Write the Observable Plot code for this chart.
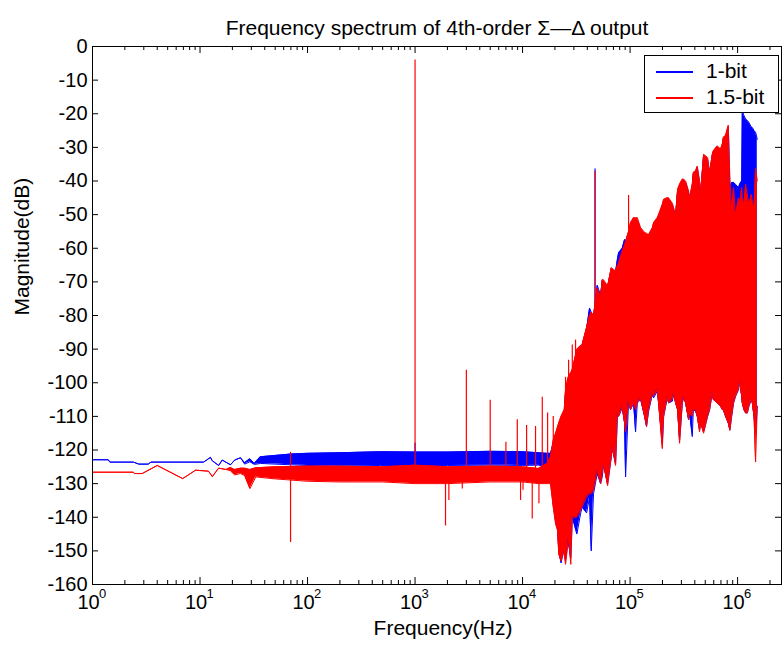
<!DOCTYPE html>
<html>
<head>
<meta charset="utf-8">
<script src="https://cdn.jsdelivr.net/npm/d3@7"></script>
<script src="https://cdn.jsdelivr.net/npm/@observablehq/plot@0.6"></script>
<style>
  html, body { margin: 0; padding: 0; background: #fff; }
  #wrap { position: relative; width: 784px; height: 648px; font-family: "Liberation Sans", Arial, sans-serif; }
  #legend { position: absolute; left: 644px; top: 55px; width: 133px; height: 56px; border: 1px solid #000; background: #fff; font-size: 21px; color: #000; }
  #legend .sw { position: absolute; left: 11px; width: 37px; height: 1.5px; }
  #legend .lb { position: absolute; left: 61px; line-height: 24px; white-space: nowrap; }
</style>
</head>
<body>
<div id="wrap"><div id="plot"></div>
  <div id="legend">
    <div class="sw" style="top:15px;background:#0000ff"></div><div class="lb" style="top:3px">1-bit</div>
    <div class="sw" style="top:41px;background:#ff0000"></div><div class="lb" style="top:29px">1.5-bit</div>
  </div>
</div>
<script>
// ---------- text ----------
const titleText = "Frequency spectrum of 4th-order Σ—Δ output";
const xLabel = "Frequency(Hz)";
const yLabel = "Magnitude(dB)";
const seriesNames = ["1-bit", "1.5-bit"];

// ---------- ticks ----------
const xTickValues = [1, 10, 100, 1000, 10000, 100000, 1000000];
const xTickExponents = ["0", "1", "2", "3", "4", "5", "6"];
const xMinorTicks = [2,3,4,5,6,7,8,9, 20,30,40,50,60,70,80,90, 200,300,400,500,600,700,800,900,
  2000,3000,4000,5000,6000,7000,8000,9000, 20000,30000,40000,50000,60000,70000,80000,90000,
  200000,300000,400000,500000,600000,700000,800000,900000, 2000000];
const yTickValues = [0,-10,-20,-30,-40,-50,-60,-70,-80,-90,-100,-110,-120,-130,-140,-150,-160];

// ---------- 1-bit (blue), low-frequency part: envelope (Hz, dB) ----------
const blueLowF  = [1, 1.4, 1.45, 2.4, 2.7, 3.3, 3.5, 10.8, 12.5, 13, 14.9, 16.1, 19.2, 21, 23.8, 26, 29.1, 32, 36.5, 50, 70, 100, 200, 478, 1000, 2000, 5000, 10000, 14000];
const blueLowHi = [-122.9, -122.9, -123.6, -123.6, -124.2, -124.2, -123.6, -123.6, -122.2, -123.2, -124.6, -123, -124.4, -123, -122.3, -123.8, -122.6, -124, -122, -121.6, -121.2, -121, -120.8, -120.5, -120.6, -120.6, -120.4, -120.5, -120.8];
const blueLowLo = [-122.9, -122.9, -123.6, -123.6, -124.2, -124.2, -123.6, -123.6, -122.2, -123.2, -124.6, -123, -124.4, -123, -122.3, -124.2, -123.5, -124.3, -124, -124.2, -124.4, -124.6, -124.8, -124.6, -124.6, -124.6, -124.5, -124.6, -124.5];

// ---------- 1.5-bit (red), low-frequency part ----------
const redLowF  = [1, 2.4, 2.45, 2.9, 4.0, 6.9, 9.1, 12.0, 13.0, 14.9, 17.5, 19.2, 21, 23.8, 26, 29.1, 33, 50, 100, 200, 500, 1000, 2000, 5000, 10000, 14000];
const redLowHi = [-126.6, -126.6, -127, -127, -124.6, -128.5, -126, -126.3, -127.9, -125.4, -125.8, -125.2, -125.8, -125.4, -125.4, -125.8, -125.3, -125, -124.8, -124.8, -125, -124.5, -125, -124.8, -125, -125.5];
const redLowLo = [-126.6, -126.6, -127, -127, -124.6, -128.5, -126, -126.3, -127.9, -125.4, -125.8, -126.2, -127.4, -127, -127.6, -131.5, -128, -128.6, -129.3, -129.5, -129.5, -130, -130, -129.5, -129.5, -130];

// ---------- high-frequency (shaped noise) part: shared frequency grid ----------
const hfF = [16900, 18200, 19300, 20300, 21200, 21700, 22800, 24400, 25100, 26200, 26800, 28100, 29000, 32000, 34600, 35700, 39400, 42000, 43500, 45700,
  49500, 53200, 55100, 56600, 61800, 66900, 68300, 73300, 76500, 78200, 84600, 88900, 90800, 96800, 101000, 107800, 112500, 116700, 125300, 136500,
  142300, 148600, 161000, 165500, 179100, 184200, 199500, 205100, 221900, 228200, 247100, 254100, 265100, 276700, 288700, 306000, 314600, 328400, 350200, 357600,
  379000, 387400, 406600, 421900, 443100, 452900, 482800, 526000, 549400, 582100, 594300, 647700, 695000, 720900, 736300, 773000, 819300, 847500, 880000, 917300,
  957000, 1021000, 1044000, 1092000, 1106000, 1145000, 1187000, 1231000, 1274000, 1342000, 1371000, 1422000, 1470000, 1524000];
const redHfHi = [-124, -122, -117, -115, -113, -112, -110, -108, -102, -99, -98, -97, -96, -90, -89, -88.8, -83.5, -80, -79, -80,
  -71.8, -74.4, -69.4, -69.4, -71.2, -65.8, -66, -66.8, -65, -64.4, -61, -59, -58, -55, -52.4, -50.9, -51, -50.9, -53.9, -55.3,
  -55.6, -56, -54, -52.4, -51, -50, -47, -45.5, -45, -45, -46.6, -48, -50, -42.5, -41, -39.5, -39.5, -40, -43, -45,
  -41, -37.5, -37, -35.6, -40, -43.5, -32.1, -33, -37.5, -32, -31.1, -29.6, -30.5, -29, -27.1, -26.5, -23.4, -39.5, -48, -42,
  -50, -45, -47, -42, -45, -47, -41, -44, -47, -44, -46, -48, -36.3, -40];
const redHfLo = [-130, -130, -137, -142, -144, -151, -153, -150, -154, -149, -146, -154, -140, -140, -138, -137, -134, -133, -133, -132,
  -126, -130, -127, -124.1, -130.6, -122, -119, -124.6, -108, -110, -107, -112, -114.6, -105, -108, -106, -108, -106, -104.5, -110,
  -113, -108, -103, -104, -102, -106, -119.6, -110, -104, -106, -105, -103, -106, -108, -118, -106, -104, -106, -111, -109,
  -110, -108, -108, -110, -114.6, -112, -115, -110, -108, -102.7, -105, -106, -107, -108, -108, -110, -112, -114.2, -110, -106,
  -104, -102, -99, -104, -106, -108, -109, -109, -107, -105, -106, -110, -123.6, -107];
const blueHfHi = [-121, -121, -118, -116, -114, -112.5, -111, -109, -103, -100, -98.5, -97.5, -96.5, -90.5, -89.5, -89, -84, -77.8, -79, -80.5,
  -71, -74, -69.6, -70, -71.5, -66, -66.5, -67, -63, -61.4, -60, -57.4, -58, -55.5, -53, -51.5, -51.5, -51.5, -54.5, -56,
  -56, -56.5, -54.5, -53, -51.5, -50.5, -47.5, -46, -45.5, -45.5, -47, -48.5, -50.5, -43, -41.5, -40, -40, -40.5, -43.5, -45.5,
  -41.5, -38, -37.5, -36, -40.5, -44, -32.5, -33.5, -38, -32.5, -31.5, -30, -31, -29.5, -27.5, -27, -24, -42, -40.5, -40.4,
  -41, -42, -41, -40, -19.2, -20.5, -21.6, -22, -22.6, -24, -24.1, -25, -25.5, -27.6];
const blueHfLo = [-125, -128, -136, -141, -143, -150, -153.6, -149, -153, -148, -148, -152, -140, -145, -139, -137, -138.7, -134, -150, -133,
  -127, -130, -128, -124.5, -130, -122, -119.5, -124, -108.5, -110, -107.5, -112, -128, -105.5, -108, -106, -114.6, -106, -105, -110,
  -113, -108.5, -103.5, -104.5, -102.5, -106, -118, -110, -104.5, -106, -105.5, -103.5, -106, -108, -117, -106, -104.5, -106, -111, -109,
  -116, -108, -108.5, -110, -114, -112, -114.5, -110, -108, -103, -105, -106, -107, -108, -108, -110, -112, -114, -110, -106,
  -104, -102, -99.5, -104, -106, -108, -109, -109, -107, -105, -106, -110, -115, -107];

// ---------- isolated spectral lines (tones, harmonics, spurs) ----------
const redSpikeF    = [69.5, 1000, 1920, 2063, 2750, 3000, 5000, 7000, 8930, 9580, 10100, 10900, 12300, 13200, 14200, 15250, 17100, 19300, 25100, 26800, 29000, 31100, 34600, 47200, 96800];
const redSpikeFrom = [-147.5, -126, -142.6, -135, -131.6, -127, -127, -127, -127, -135, -132, -127, -140.5, -127, -136, -127, -127, -127, -120, -118, -115, -110, -100, -80, -60];
const redSpikeTo   = [-120.7, -4, -126, -127, -127, -96.3, -105.2, -117.7, -111, -127, -127, -112.7, -127, -113, -127, -104.3, -109, -110, -98.4, -93.3, -88.8, -87.3, -90, -37.2, -44.3];
const blueSpikeF    = [1000, 47200];
const blueSpikeFrom = [-124, -80];
const blueSpikeTo   = [-118, -36.4];

// ---------- build tables ----------
const blueData = [
  ...blueLowF.map((f, i) => ({f, hi: blueLowHi[i], lo: blueLowLo[i]})),
  ...hfF.map((f, i) => ({f, hi: blueHfHi[i], lo: blueHfLo[i]}))
];
const redData = [
  ...redLowF.map((f, i) => ({f, hi: redLowHi[i], lo: redLowLo[i]})),
  ...hfF.map((f, i) => ({f, hi: redHfHi[i], lo: redHfLo[i]}))
];
const blueSpikes = blueSpikeF.map((f, i) => ({f, a: blueSpikeFrom[i], b: blueSpikeTo[i]}));
const redSpikes = redSpikeF.map((f, i) => ({f, a: redSpikeFrom[i], b: redSpikeTo[i]}));

const W = 784, H = 648, mL = 92, mR = 3, mT = 46, mB = 64;
const FW = W - mL - mR, FH = H - mT - mB;
const BLUE = "#0000ff", RED = "#ff0000";
const FONT = 21;

const chart = Plot.plot({
  width: W, height: H,
  marginLeft: mL, marginRight: mR, marginTop: mT, marginBottom: mB,
  style: {fontFamily: "'Liberation Sans', Arial, sans-serif", background: "#fff", color: "#000", overflow: "visible"},
  x: {type: "log", domain: [1, 2.56e6], axis: null},
  y: {domain: [-160, 0], axis: null},
  marks: [
    // 1-bit
    Plot.areaY(blueData, {x: "f", y1: "lo", y2: "hi", fill: BLUE}),
    Plot.line(blueData, {x: "f", y: "hi", stroke: BLUE, strokeWidth: 1}),
    Plot.line(blueData, {x: "f", y: "lo", stroke: BLUE, strokeWidth: 1}),
    Plot.ruleX(blueSpikes, {x: "f", y1: "a", y2: "b", stroke: BLUE, strokeWidth: 1.2}),
    // 1.5-bit
    Plot.areaY(redData, {x: "f", y1: "lo", y2: "hi", fill: RED}),
    Plot.line(redData, {x: "f", y: "hi", stroke: RED, strokeWidth: 1}),
    Plot.line(redData, {x: "f", y: "lo", stroke: RED, strokeWidth: 1}),
    Plot.ruleX(redSpikes, {x: "f", y1: "a", y2: "b", stroke: RED, strokeWidth: 1.2}),
    // box and inward ticks
    Plot.frame({stroke: "#000", strokeWidth: 1}),
    Plot.ruleX(xTickValues, {x: d => d, insetTop: FH - 7, stroke: "#000"}),
    Plot.ruleX(xTickValues, {x: d => d, insetBottom: FH - 7, stroke: "#000"}),
    Plot.ruleX(xMinorTicks, {x: d => d, insetTop: FH - 4, stroke: "#000"}),
    Plot.ruleX(xMinorTicks, {x: d => d, insetBottom: FH - 4, stroke: "#000"}),
    Plot.ruleY(yTickValues, {y: d => d, insetRight: FW - 6, stroke: "#000"}),
    Plot.ruleY(yTickValues, {y: d => d, insetLeft: FW - 6, stroke: "#000"}),
    // tick labels
    Plot.text(yTickValues, {y: d => d, text: d => String(d), frameAnchor: "left", textAnchor: "end", dx: -5, dy: 0, fontSize: 20, fill: "#000"}),
    Plot.text(xTickValues, {x: d => d, text: () => "10", frameAnchor: "bottom", dy: 24, dx: -4, fontSize: 20, fill: "#000"}),
    Plot.text(xTickValues, {x: d => d, text: (d, i) => xTickExponents[i], frameAnchor: "bottom", dy: 13, dx: 10, fontSize: 13, fill: "#000"}),
    // title and axis labels
    Plot.text([titleText], {text: d => d, frameAnchor: "top", dy: -26, fontSize: 21, fill: "#000"}),
    Plot.text([xLabel], {text: d => d, frameAnchor: "bottom", dy: 50, dx: 6, fontSize: FONT, fill: "#000"}),
    Plot.text([yLabel], {text: d => d, frameAnchor: "left", dx: -70, rotate: -90, fontSize: FONT, fill: "#000"})
  ]
});
document.getElementById("plot").appendChild(chart);
</script>
</body>
</html>
